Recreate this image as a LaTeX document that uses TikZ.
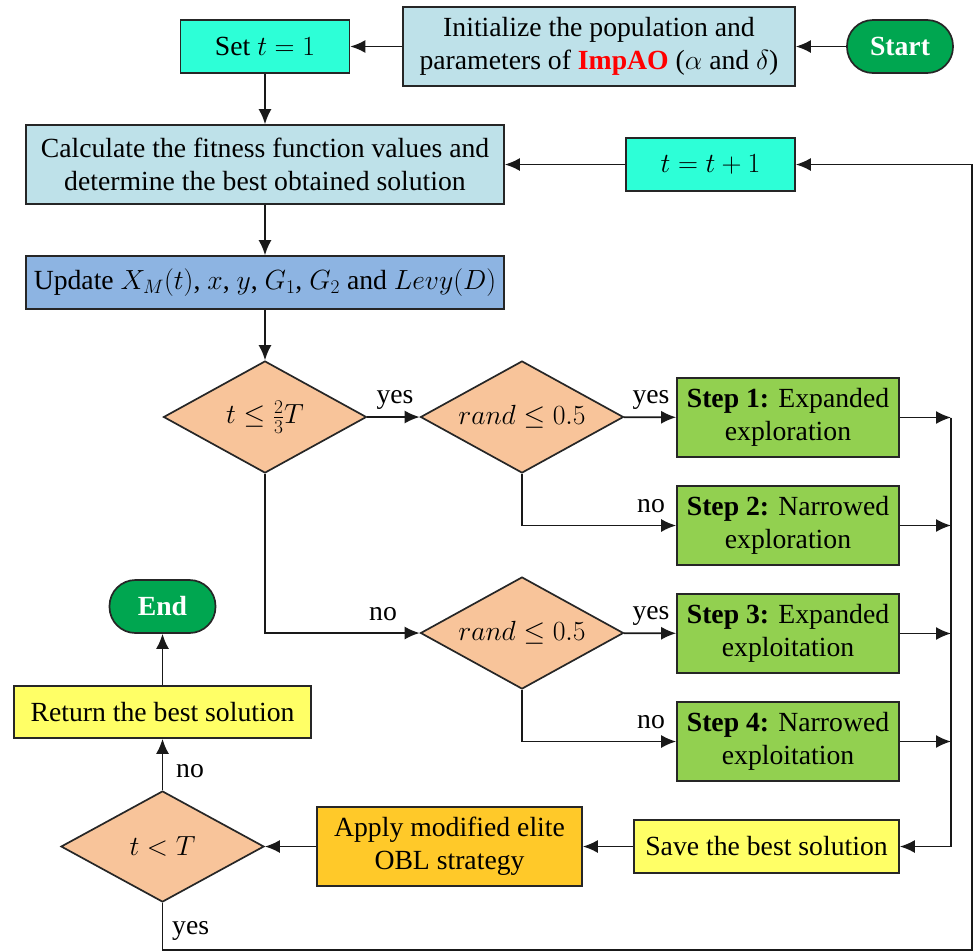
\RequirePackage{fix-cm}
\documentclass[tikz,border=0pt]{standalone}
\usepackage{fontspec}
\setmainfont{Liberation Serif}
\usetikzlibrary{shapes.geometric,arrows.meta}
\definecolor{termgreen}{RGB}{0,166,80}
\definecolor{lblue}{RGB}{190,225,233}
\definecolor{turq}{RGB}{45,255,215}
\definecolor{updblue}{RGB}{141,180,226}
\definecolor{peach}{RGB}{248,196,154}
\definecolor{stepgreen}{RGB}{146,208,80}
\definecolor{lyellow}{RGB}{255,255,102}
\definecolor{gold}{RGB}{255,201,41}
\begin{document}
\begin{tikzpicture}[x=1pt,y=-1pt,
  font=\fontsize{27.7}{33}\selectfont,
  box/.style={draw=black!85, line width=1.7pt, rectangle, inner sep=0pt, align=center},
  term/.style={box, rounded corners=26pt, fill=termgreen, text=white, font=\fontsize{27.7}{33}\selectfont\bfseries, minimum width=106pt, minimum height=53pt},
  dec/.style={draw=black!85, line width=1.7pt, diamond, aspect=1.81, fill=peach, inner sep=0pt, minimum width=203pt, minimum height=112pt},
  stepbox/.style={box, fill=stepgreen, minimum width=222pt, minimum height=79pt},
  arr/.style={line width=1.7pt, draw=black!90, -{Latex[length=15pt,width=13pt]}},
  ln/.style={line width=1.7pt, draw=black!90},
  lbl/.style={inner sep=0pt, anchor=base}
]
\useasboundingbox (0,0) rectangle (973,951);

% nodes
\node[term] (start) at (900,46.5) {Start};
\node[box, fill=lblue, minimum width=392pt, minimum height=79pt] (init) at (599,46.5)
  {Initialize the population and\\parameters of {\color{red}\bfseries ImpAO} ($\alpha$ and $\delta$)};
\node[box, fill=turq, minimum width=169pt, minimum height=53pt] (set) at (265,46.5) {Set $t=1$};
\node[box, fill=lblue, minimum width=478pt, minimum height=79pt] (calc) at (265,164.5)
  {Calculate the fitness function values and\\determine the best obtained solution};
\node[box, fill=turq, minimum width=169pt, minimum height=53pt] (tinc) at (710.5,164.5) {$t=t+1$};
\node[box, fill=updblue, minimum width=478pt, minimum height=53pt] (upd) at (265,282.5)
  {Update $X_M(t)$, $x$, $y$, $G_1$, $G_2$ and $Levy(D)$};
\node[dec] (d1) at (265,417) {$t\leq\frac{2}{3}T$};
\node[dec] (d2) at (522,417) {$rand\leq 0.5$};
\node[dec] (d3) at (522,633) {$rand\leq 0.5$};
\node[stepbox] (s1) at (788,417.5) {\textbf{Step 1:} Expanded\\exploration};
\node[stepbox] (s2) at (788,525.5) {\textbf{Step 2:} Narrowed\\exploration};
\node[stepbox] (s3) at (788,633.5) {\textbf{Step 3:} Expanded\\exploitation};
\node[stepbox] (s4) at (788,741.5) {\textbf{Step 4:} Narrowed\\exploitation};
\node[box, fill=lyellow, minimum width=265pt, minimum height=53pt] (save) at (766.5,846.5) {Save the best solution};
\node[box, fill=gold, minimum width=265pt, minimum height=79pt] (apply) at (449.5,846.5)
  {Apply modified elite\\OBL strategy};
\node[dec, minimum width=203pt, minimum height=111pt] (d4) at (162.5,846.5) {$t<T$};
\node[box, fill=lyellow, minimum width=297pt, minimum height=52pt] (ret) at (162.5,712) {Return the best solution};
\node[term] (end) at (162.5,606.5) {End};

% helper coordinates
\coordinate (col) at (951,417.5);
\coordinate (bl) at (162.5,950);
\coordinate (br) at (972,950);

% connectors
\draw[arr] (start) -- (init);
\draw[arr] (init) -- (set);
\draw[arr] (set) -- (calc);
\draw[arr] (tinc) -- (calc);
\draw[arr] (calc) -- (upd);
\draw[arr] (upd) -- (d1);
\draw[arr] (d1) -- (d2);
\draw[arr] (d2) -- (s1);
\draw[arr] (d2.south) |- (s2.west);
\draw[arr] (d1.south) |- (d3.west);
\draw[arr] (d3) -- (s3);
\draw[arr] (d3.south) |- (s4.west);
\draw[arr] (s1.east) -- (s1.east -| col);
\draw[arr] (s2.east) -- (s2.east -| col);
\draw[arr] (s3.east) -- (s3.east -| col);
\draw[arr] (s4.east) -- (s4.east -| col);
\draw[ln] (col) -- (col |- save.east);
\draw[arr] (col |- save.east) -- (save.east);
\draw[arr] (save) -- (apply);
\draw[arr] (apply) -- (d4);
\draw[arr] (d4) -- (ret);
\draw[arr] (ret) -- (end);
\draw[arr] (d4.south) -- (bl) -- (br) |- (tinc.east);

% labels
\node[lbl] (l1) at (395,403) {yes};
\node[lbl] (l2) at (651,403) {yes};
\node[lbl] (l3) at (651,512) {no};
\node[lbl] (l4) at (383,620) {no};
\node[lbl] (l5) at (651,619) {yes};
\node[lbl] (l6) at (651,728) {no};
\node[lbl, anchor=base west] (l7) at (176,777) {no};
\node[lbl, anchor=base west] (l8) at (172,934) {yes};
\end{tikzpicture}
\end{document}
